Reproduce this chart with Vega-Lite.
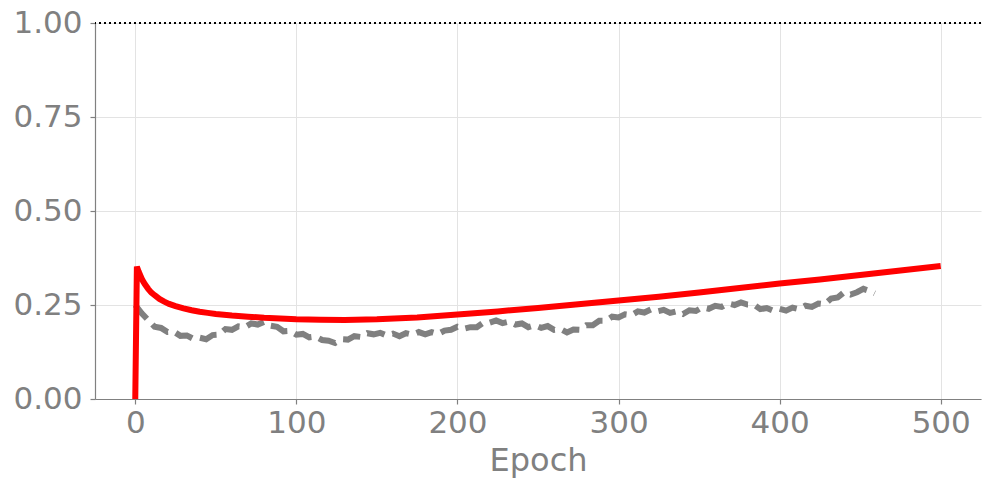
{
  "$schema": "https://vega.github.io/schema/vega-lite/v6.json",
  "width": 886,
  "height": 376,
  "autosize": "none",
  "padding": {"left": 95, "top": 23, "right": 8, "bottom": 91},
  "background": "white",
  "config": {
    "view": {"stroke": null},
    "font": "DejaVu Sans",
    "axis": {
      "labelFont": "DejaVu Sans",
      "titleFont": "DejaVu Sans",
      "labelFontSize": 31,
      "titleFontSize": 32,
      "labelColor": "#808080",
      "titleColor": "#808080",
      "titleFontWeight": "normal",
      "domainColor": "#808080",
      "domainWidth": 1.2,
      "tickColor": "#808080",
      "tickSize": 5,
      "tickWidth": 1.2,
      "gridColor": "#e3e3e3",
      "gridWidth": 1
    }
  },
  "datasets": {
    "gray": [
      {"epoch": 0, "v": 0.25}, {"epoch": 4, "v": 0.228}, {"epoch": 8, "v": 0.21}, {"epoch": 12, "v": 0.192},
      {"epoch": 16, "v": 0.189}, {"epoch": 20, "v": 0.178}, {"epoch": 24, "v": 0.179}, {"epoch": 28, "v": 0.168},
      {"epoch": 32, "v": 0.169}, {"epoch": 36, "v": 0.16}, {"epoch": 40, "v": 0.163}, {"epoch": 44, "v": 0.159},
      {"epoch": 48, "v": 0.17}, {"epoch": 52, "v": 0.171}, {"epoch": 56, "v": 0.186}, {"epoch": 60, "v": 0.184},
      {"epoch": 64, "v": 0.193}, {"epoch": 68, "v": 0.191}, {"epoch": 72, "v": 0.201}, {"epoch": 76, "v": 0.198},
      {"epoch": 80, "v": 0.205}, {"epoch": 84, "v": 0.195}, {"epoch": 88, "v": 0.192}, {"epoch": 92, "v": 0.18},
      {"epoch": 96, "v": 0.181}, {"epoch": 100, "v": 0.171}, {"epoch": 104, "v": 0.173}, {"epoch": 108, "v": 0.164},
      {"epoch": 112, "v": 0.166}, {"epoch": 116, "v": 0.157}, {"epoch": 120, "v": 0.155}, {"epoch": 124, "v": 0.149},
      {"epoch": 128, "v": 0.159}, {"epoch": 132, "v": 0.158}, {"epoch": 136, "v": 0.167}, {"epoch": 140, "v": 0.165},
      {"epoch": 144, "v": 0.175}, {"epoch": 148, "v": 0.172}, {"epoch": 152, "v": 0.176}, {"epoch": 156, "v": 0.169},
      {"epoch": 160, "v": 0.174}, {"epoch": 164, "v": 0.167}, {"epoch": 168, "v": 0.175}, {"epoch": 172, "v": 0.171},
      {"epoch": 176, "v": 0.178}, {"epoch": 180, "v": 0.172}, {"epoch": 184, "v": 0.178}, {"epoch": 188, "v": 0.173},
      {"epoch": 192, "v": 0.182}, {"epoch": 196, "v": 0.184}, {"epoch": 200, "v": 0.192}, {"epoch": 204, "v": 0.187},
      {"epoch": 208, "v": 0.191}, {"epoch": 212, "v": 0.191}, {"epoch": 216, "v": 0.203}, {"epoch": 220, "v": 0.203},
      {"epoch": 224, "v": 0.209}, {"epoch": 228, "v": 0.202}, {"epoch": 232, "v": 0.206}, {"epoch": 236, "v": 0.198},
      {"epoch": 240, "v": 0.201}, {"epoch": 244, "v": 0.191}, {"epoch": 248, "v": 0.196}, {"epoch": 252, "v": 0.189},
      {"epoch": 256, "v": 0.194}, {"epoch": 260, "v": 0.184}, {"epoch": 264, "v": 0.186}, {"epoch": 268, "v": 0.177},
      {"epoch": 272, "v": 0.185}, {"epoch": 276, "v": 0.184}, {"epoch": 280, "v": 0.196}, {"epoch": 284, "v": 0.196},
      {"epoch": 288, "v": 0.208}, {"epoch": 292, "v": 0.208}, {"epoch": 296, "v": 0.219}, {"epoch": 300, "v": 0.217},
      {"epoch": 304, "v": 0.225}, {"epoch": 308, "v": 0.223}, {"epoch": 312, "v": 0.233}, {"epoch": 316, "v": 0.23},
      {"epoch": 320, "v": 0.238}, {"epoch": 324, "v": 0.233}, {"epoch": 328, "v": 0.237}, {"epoch": 332, "v": 0.229},
      {"epoch": 336, "v": 0.233}, {"epoch": 340, "v": 0.226}, {"epoch": 344, "v": 0.236}, {"epoch": 348, "v": 0.234},
      {"epoch": 352, "v": 0.244}, {"epoch": 356, "v": 0.24}, {"epoch": 360, "v": 0.248}, {"epoch": 364, "v": 0.245},
      {"epoch": 368, "v": 0.254}, {"epoch": 372, "v": 0.25}, {"epoch": 376, "v": 0.257}, {"epoch": 380, "v": 0.251},
      {"epoch": 384, "v": 0.251}, {"epoch": 388, "v": 0.239}, {"epoch": 392, "v": 0.242}, {"epoch": 396, "v": 0.235},
      {"epoch": 400, "v": 0.24}, {"epoch": 404, "v": 0.235}, {"epoch": 408, "v": 0.243}, {"epoch": 412, "v": 0.239},
      {"epoch": 416, "v": 0.248}, {"epoch": 420, "v": 0.245}, {"epoch": 424, "v": 0.254}, {"epoch": 428, "v": 0.252},
      {"epoch": 432, "v": 0.267}, {"epoch": 436, "v": 0.27}, {"epoch": 440, "v": 0.284}, {"epoch": 444, "v": 0.278},
      {"epoch": 448, "v": 0.284}, {"epoch": 452, "v": 0.293}, {"epoch": 456, "v": 0.287}, {"epoch": 459, "v": 0.281}
    ],
    "red": [
      {"epoch": 0, "v": 0}, {"epoch": 1, "v": 0.352}, {"epoch": 2, "v": 0.34}, {"epoch": 3, "v": 0.33},
      {"epoch": 4, "v": 0.32}, {"epoch": 5, "v": 0.312}, {"epoch": 6, "v": 0.305}, {"epoch": 8, "v": 0.293},
      {"epoch": 10, "v": 0.283}, {"epoch": 12, "v": 0.276}, {"epoch": 15, "v": 0.266}, {"epoch": 18, "v": 0.259},
      {"epoch": 21, "v": 0.253}, {"epoch": 25, "v": 0.247}, {"epoch": 30, "v": 0.241}, {"epoch": 35, "v": 0.236},
      {"epoch": 40, "v": 0.232}, {"epoch": 45, "v": 0.229}, {"epoch": 50, "v": 0.226}, {"epoch": 60, "v": 0.222},
      {"epoch": 70, "v": 0.219}, {"epoch": 80, "v": 0.216}, {"epoch": 90, "v": 0.214}, {"epoch": 100, "v": 0.212},
      {"epoch": 115, "v": 0.211}, {"epoch": 130, "v": 0.21}, {"epoch": 150, "v": 0.212}, {"epoch": 175, "v": 0.217},
      {"epoch": 200, "v": 0.225}, {"epoch": 225, "v": 0.233}, {"epoch": 250, "v": 0.242}, {"epoch": 275, "v": 0.252},
      {"epoch": 300, "v": 0.262}, {"epoch": 325, "v": 0.272}, {"epoch": 350, "v": 0.283}, {"epoch": 375, "v": 0.295},
      {"epoch": 400, "v": 0.307}, {"epoch": 425, "v": 0.318}, {"epoch": 450, "v": 0.33}, {"epoch": 475, "v": 0.342},
      {"epoch": 500, "v": 0.354}
    ]
  },
  "encoding": {
    "x": {
      "field": "epoch",
      "type": "quantitative",
      "scale": {"domain": [-25, 525], "nice": false, "zero": false},
      "axis": {"title": "Epoch", "values": [0, 100, 200, 300, 400, 500], "labelPadding": 4, "titlePadding": 7}
    },
    "y": {
      "field": "v",
      "type": "quantitative",
      "scale": {"domain": [0, 1], "nice": false},
      "axis": {"title": null, "values": [0, 0.25, 0.5, 0.75, 1], "format": ".2f", "labelPadding": 8}
    }
  },
  "layer": [
    {
      "data": {"name": "gray"},
      "mark": {"type": "line", "color": "#808080", "strokeWidth": 6, "strokeDash": [18, 8], "strokeCap": "butt"}
    },
    {
      "data": {"name": "red"},
      "mark": {"type": "line", "color": "#ff0000", "strokeWidth": 6, "strokeCap": "butt", "strokeJoin": "miter"}
    },
    {
      "data": {"values": [{"v": 1}]},
      "mark": {"type": "rule", "color": "black", "strokeWidth": 2, "strokeDash": [2, 3]},
      "encoding": {"x": null, "y": {"field": "v", "type": "quantitative"}}
    }
  ]
}
